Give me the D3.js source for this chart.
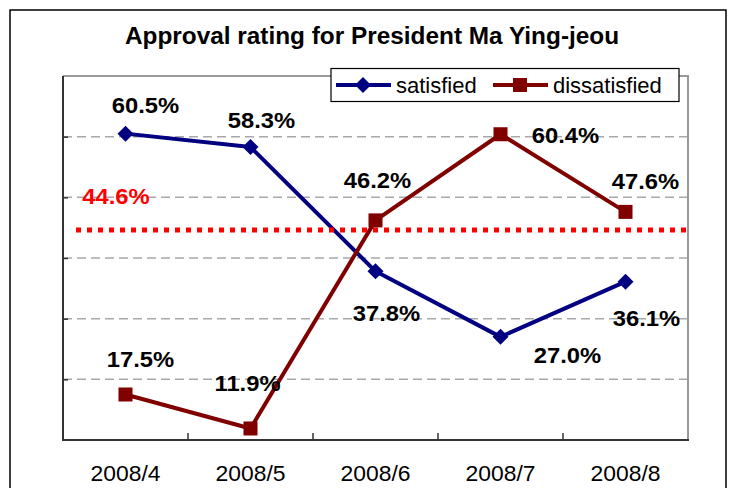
<!DOCTYPE html>
<html><head><meta charset="utf-8">
<script src="https://cdn.jsdelivr.net/npm/d3@7"></script>
<style>body{margin:0;background:#fff}svg{display:block}</style>
</head><body>
<script>
const categories = ["2008/4","2008/5","2008/6","2008/7","2008/8"];
const satisfied = [60.5, 58.3, 37.8, 27.0, 36.1];
const dissatisfied = [17.5, 11.9, 46.2, 60.4, 47.6];
const average = 44.6;
const yTicks = [20, 30, 40, 50, 60];
const title = "Approval rating for President Ma Ying-jeou";
const seriesNames = ["satisfied", "dissatisfied"];

const W = 729, H = 488;
const svg = d3.select("body").append("svg").attr("width", W).attr("height", H);
const FONT = "'Liberation Sans', Arial, sans-serif";

// outer frame
svg.append("rect").attr("x", 10).attr("y", 10).attr("width", 716).attr("height", 500)
  .attr("fill", "#fff").attr("stroke", "#000").attr("stroke-width", 1.5);

const pLeft = 63, pRight = 688, pTop = 76, pBottom = 440;
const x = d3.scaleBand().domain(categories).range([pLeft, pRight]);
const y = d3.scaleLinear().domain([10, 70]).range([pBottom, pTop]);

// gridlines
svg.append("g").selectAll("line").data(yTicks).join("line")
  .attr("x1", pLeft).attr("x2", pRight)
  .attr("y1", d => y(d)).attr("y2", d => y(d))
  .attr("stroke", "#a8a8a8").attr("stroke-width", 1.5).attr("stroke-dasharray", "9,5");

// top/right border (gray)
svg.append("path").attr("d", `M${pLeft},${pTop}H${pRight}V${pBottom}`)
  .attr("fill", "none").attr("stroke", "#999").attr("stroke-width", 2);

// y axis (left) ticks inside, no labels
const yAxis = d3.axisRight(y).tickValues(yTicks).tickSize(5).tickFormat("");
const gy = svg.append("g").attr("transform", `translate(${pLeft},0)`).call(yAxis);
gy.select(".domain").remove();
gy.selectAll(".tick line").attr("stroke", "#333").attr("stroke-width", 1.5);
svg.append("line").attr("x1", pLeft).attr("x2", pLeft).attr("y1", pTop).attr("y2", pBottom + 1)
  .attr("stroke", "#333").attr("stroke-width", 2);

// x axis
const xAxis = d3.axisBottom(x).tickSize(0).tickPadding(0);
const gx = svg.append("g").attr("transform", `translate(0,${pBottom})`).call(xAxis);
gx.select(".domain").remove();
gx.selectAll(".tick text").remove();
// category boundary ticks (inside, upward)
svg.append("g").selectAll("line").data(categories.slice(1)).join("line")
  .attr("x1", d => x(d)).attr("x2", d => x(d))
  .attr("y1", pBottom).attr("y2", pBottom - 7)
  .attr("stroke", "#333").attr("stroke-width", 1.5);
svg.append("line").attr("x1", pLeft - 1).attr("x2", pRight + 1).attr("y1", pBottom).attr("y2", pBottom)
  .attr("stroke", "#333").attr("stroke-width", 2);
// category labels
svg.append("g").selectAll("text").data(categories).join("text")
  .attr("transform", d => `translate(${x(d) + x.bandwidth() / 2},481) scale(1.04,1)`)
  .attr("text-anchor", "middle").attr("font-family", FONT).attr("font-size", 22)
  .attr("fill", "#000").text(d => d);

const cx = d => x(d) + x.bandwidth() / 2;
const line = d3.line().x(d => cx(d[0])).y(d => y(d[1]));
const satPts = categories.map((c, i) => [c, satisfied[i]]);
const disPts = categories.map((c, i) => [c, dissatisfied[i]]);

svg.append("path").attr("d", line(satPts)).attr("fill", "none")
  .attr("stroke", "#000080").attr("stroke-width", 4).attr("stroke-linejoin", "round");
svg.append("path").attr("d", line(disPts)).attr("fill", "none")
  .attr("stroke", "#800000").attr("stroke-width", 4).attr("stroke-linejoin", "round");

// average dotted line
svg.append("line").attr("x1", 76).attr("x2", 686).attr("y1", y(average)).attr("y2", y(average))
  .attr("stroke", "#ff0000").attr("stroke-width", 5).attr("stroke-dasharray", "5,6");

// markers
const diamond = d3.symbol().type(d3.symbolSquare).size(128);
svg.append("g").selectAll("path").data(satPts).join("path")
  .attr("d", diamond).attr("transform", d => `translate(${cx(d[0])},${y(d[1])}) rotate(45)`)
  .attr("fill", "#000080");
svg.append("g").selectAll("rect").data(disPts).join("rect")
  .attr("x", d => cx(d[0]) - 7).attr("y", d => y(d[1]) - 7).attr("width", 14).attr("height", 14)
  .attr("fill", "#800000");

// data labels: offsets relative to point
const satOff = [[20, -21], [11, -19], [11, 50], [67, 26], [21, 44]];
const disOff = [[15, -28], [-3, -37], [2, -32], [65, 9], [20, -23]];
const lab = svg.append("g").attr("font-family", FONT).attr("font-weight", "bold")
  .attr("font-size", 21.8).attr("text-anchor", "middle").attr("fill", "#000");
lab.selectAll("text.s").data(satPts).join("text").attr("class", "s")
  .attr("transform", (d, i) => `translate(${cx(d[0]) + satOff[i][0]},${y(d[1]) + satOff[i][1]}) scale(1.09,1)`)
  .text(d => d[1].toFixed(1) + "%");
lab.selectAll("text.d").data(disPts).join("text").attr("class", "d")
  .attr("transform", (d, i) => `translate(${cx(d[0]) + disOff[i][0]},${y(d[1]) + disOff[i][1]}) scale(1.09,1)`)
  .text(d => d[1].toFixed(1) + "%");
lab.append("text").attr("fill", "#ff0000")
  .attr("transform", `translate(116,${y(average) - 26}) scale(1.09,1)`)
  .text(average.toFixed(1) + "%");

// legend
const lg = svg.append("g");
lg.append("rect").attr("x", 331).attr("y", 68.5).attr("width", 348).attr("height", 33)
  .attr("fill", "#fff").attr("stroke", "#000").attr("stroke-width", 1.2);
const legendItems = [
  {name: seriesNames[0], color: "#000080", x0: 336, shape: "diamond"},
  {name: seriesNames[1], color: "#800000", x0: 493, shape: "square"}
];
legendItems.forEach(it => {
  lg.append("line").attr("x1", it.x0).attr("x2", it.x0 + 55).attr("y1", 85).attr("y2", 85)
    .attr("stroke", it.color).attr("stroke-width", 4);
  if (it.shape === "diamond") {
    lg.append("path").attr("d", diamond).attr("transform", `translate(${it.x0 + 27},85) rotate(45)`).attr("fill", it.color);
  } else {
    lg.append("rect").attr("x", it.x0 + 20).attr("y", 78).attr("width", 14).attr("height", 14).attr("fill", it.color);
  }
  lg.append("text").attr("x", it.x0 + 60).attr("y", 93).attr("font-family", FONT).attr("font-size", 22)
    .attr("fill", "#000").text(it.name);
});

// title
svg.append("text").attr("transform", "translate(372,44) scale(1.06,1)")
  .attr("text-anchor", "middle")
  .attr("font-family", FONT).attr("font-weight", "bold")
  .attr("font-size", 23).attr("fill", "#000").text(title);
</script>
</body></html>
